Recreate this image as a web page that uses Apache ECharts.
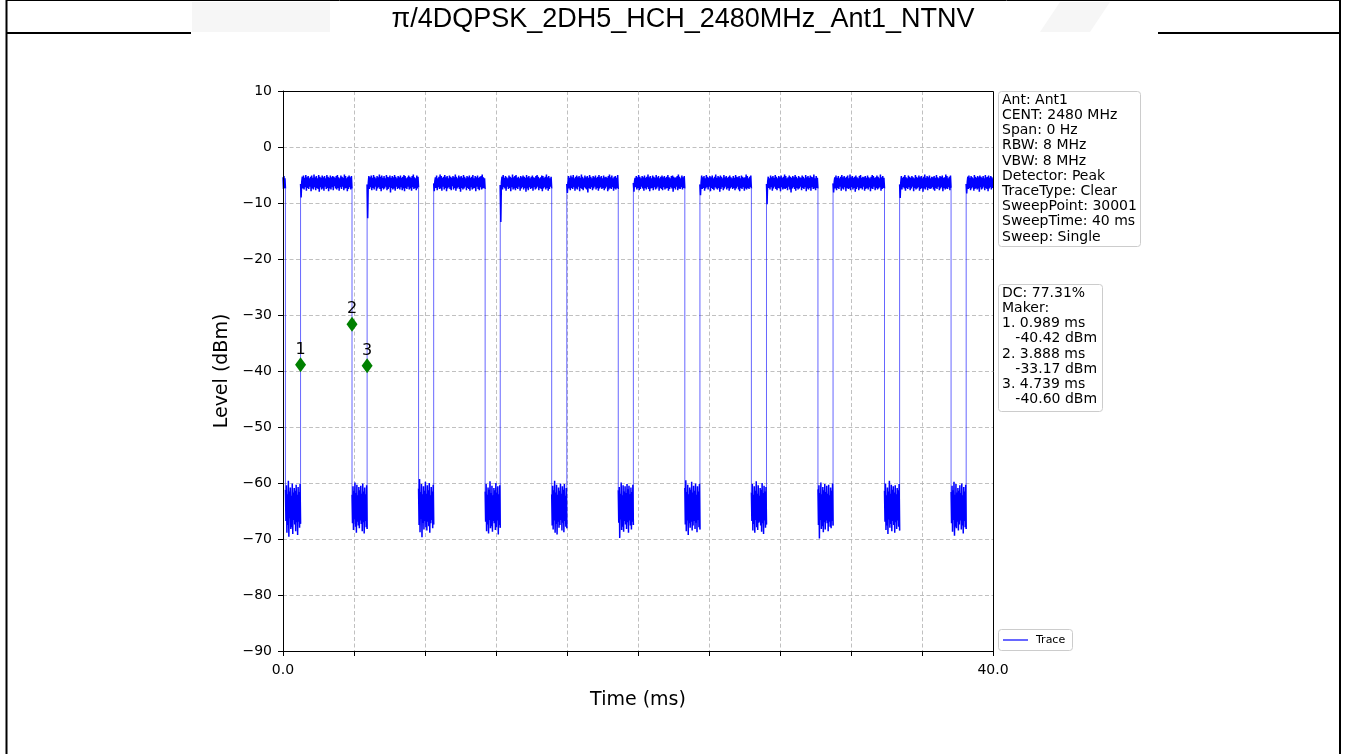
<!DOCTYPE html>
<html>
<head>
<meta charset="utf-8">
<script src="https://cdn.jsdelivr.net/npm/echarts@6/dist/echarts.min.js"></script>
<style>
  html, body { margin: 0; padding: 0; background: #ffffff; }
  #chart { width: 1346px; height: 754px; }
</style>
</head>
<body>
<div id="chart"></div>
<script>
// ---- chart data ----
const titleText = 'π/4DQPSK_2DH5_HCH_2480MHz_Ant1_NTNV';
const xAxisName = 'Time (ms)';
const yAxisName = 'Level (dBm)';
const xLimits = [0, 40];
const xTickStep = 4;
const yLimits = [-90, 10];
const yTickStep = 10;
const xLabelValues = [0, 40];

// pulse edges (ms)
const fallTimes = [0.138, 3.888, 7.638, 11.388, 15.138, 18.888, 22.638, 26.388, 30.138, 33.888, 37.638];
const riseTimes = [0.989, 4.739, 8.489, 12.239, 15.989, 19.739, 23.489, 27.239, 30.989, 34.739, 38.489];

// burst-on samples (dBm), one list per burst, evenly spaced across the burst
const pulse0 = [-5.4,-7.5,-5.2,-7.3,-5.6,-7.4];
const pulse1 = [-6.6,-9.0,-6.2,-5.3,-7.4,-5.1,-7.6,-5.5,-7.2,-5.0,-7.8,-5.4,-7.3,-5.2,-7.5,-5.6,-7.1,-5.3,-7.9,-5.1,-7.4,-5.5,-7.6,-4.9,-7.2,-5.4,-7.7,-5.2,-7.3,-5.6,-7.5,-5.0,-8.0,-5.3,-7.2,-5.5,-7.6,-5.1,-7.4,-5.4,-7.8,-5.2,-7.1,-5.6,-7.5,-5.0,-7.3,-5.3,-7.9,-5.5,-7.4,-5.1,-7.6,-5.4,-7.2,-5.2,-7.7,-5.3,-7.0,-5.5,-7.4,-5.2,-7.6,-5.0,-7.3,-5.4,-7.8,-5.6,-7.2,-5.1,-7.5,-5.3,-7.1,-5.5,-7.7,-4.9,-7.4,-5.2,-7.3,-5.6,-7.9,-5.3,-7.5,-5.1,-7.2,-5.4,-7.6,-5.2,-7.4];
const pulse2 = [-6.7,-12.7,-6.4,-5.2,-7.5,-5.4,-7.2,-5.1,-7.7,-5.5,-7.3,-5.0,-7.6,-5.3,-7.1,-5.6,-7.8,-5.2,-7.4,-5.4,-7.2,-4.9,-7.5,-5.3,-7.9,-5.1,-7.3,-5.5,-7.6,-5.2,-7.4,-5.6,-7.1,-5.0,-7.7,-5.3,-7.5,-5.4,-7.2,-5.1,-8.1,-5.5,-7.3,-5.2,-7.6,-5.4,-7.4,-5.0,-7.8,-5.3,-7.1,-5.6,-7.5,-5.2,-7.3,-5.4,-7.6,-5.1,-7.2,-5.5,-7.7,-5.3,-7.4,-5.0,-7.9,-5.2,-7.3,-5.6,-7.5,-5.4,-7.1,-5.1,-7.6,-5.3,-7.4,-5.5,-7.8,-5.2,-7.2,-4.9,-7.5,-5.4,-7.3,-5.6,-7.7,-5.1,-7.4,-5.3,-7.2];
const pulse3 = [-6.5,-7.9,-6.1,-5.4,-7.3,-5.1,-7.7,-5.6,-7.2,-5.3,-7.5,-4.9,-7.4,-5.2,-7.8,-5.5,-7.1,-5.3,-7.6,-5.0,-7.3,-5.4,-7.9,-5.2,-7.4,-5.6,-7.2,-5.1,-7.5,-5.3,-7.7,-5.5,-7.0,-5.2,-7.6,-5.4,-7.3,-4.9,-7.8,-5.3,-7.4,-5.6,-7.2,-5.1,-7.5,-5.4,-8.0,-5.2,-7.3,-5.5,-7.6,-5.0,-7.4,-5.3,-7.1,-5.6,-7.7,-5.2,-7.3,-5.4,-7.5,-5.1,-7.8,-5.5,-7.2,-5.3,-7.6,-5.0,-7.4,-5.6,-7.3,-5.2,-7.9,-5.4,-7.1,-5.1,-7.5,-5.5,-7.7,-5.3,-7.2,-5.2,-7.6,-4.9,-7.4,-5.4,-7.3,-5.6,-7.5];
const pulse4 = [-6.8,-13.4,-6.3,-5.3,-7.6,-5.0,-7.2,-5.5,-7.4,-5.2,-7.8,-5.4,-7.1,-5.6,-7.5,-5.1,-7.3,-5.3,-7.9,-5.5,-7.2,-4.9,-7.6,-5.4,-7.4,-5.2,-7.7,-5.0,-7.3,-5.5,-7.5,-5.3,-7.1,-5.6,-7.8,-5.2,-7.4,-5.4,-7.2,-5.1,-7.6,-5.3,-7.3,-5.5,-8.0,-5.0,-7.4,-5.4,-7.7,-5.2,-7.2,-5.6,-7.5,-5.3,-7.3,-5.1,-7.8,-5.4,-7.2,-5.5,-7.6,-5.2,-7.4,-5.0,-7.1,-5.3,-7.7,-5.6,-7.3,-5.4,-7.5,-5.1,-7.9,-5.2,-7.4,-5.5,-7.2,-5.3,-7.6,-4.9,-7.3,-5.4,-7.8,-5.2,-7.5,-5.6,-7.1,-5.3,-7.4];
const pulse5 = [-6.6,-8.2,-6.2,-5.2,-7.4,-5.5,-7.7,-5.1,-7.3,-5.4,-7.5,-5.0,-7.2,-5.6,-7.8,-5.3,-7.4,-5.1,-7.6,-5.4,-7.1,-5.2,-7.9,-5.5,-7.3,-4.9,-7.5,-5.3,-7.7,-5.6,-7.2,-5.1,-7.4,-5.4,-7.6,-5.2,-8.1,-5.5,-7.3,-5.0,-7.5,-5.3,-7.2,-5.6,-7.7,-5.2,-7.4,-5.4,-7.1,-5.1,-7.6,-5.5,-7.3,-5.3,-7.8,-5.0,-7.4,-5.4,-7.2,-5.2,-7.5,-5.6,-7.3,-5.1,-7.7,-5.4,-7.4,-5.3,-7.1,-5.5,-7.9,-5.2,-7.6,-4.9,-7.3,-5.4,-7.5,-5.1,-7.2,-5.6,-7.8,-5.3,-7.4,-5.2,-7.6,-5.5,-7.3,-5.0,-7.5];
const pulse6 = [-6.4,-8.0,-6.1,-5.5,-7.2,-5.2,-7.6,-5.4,-7.3,-5.0,-7.7,-5.3,-7.5,-5.6,-7.1,-5.2,-7.4,-5.4,-7.8,-5.1,-7.3,-5.5,-7.6,-5.3,-7.2,-4.9,-7.5,-5.4,-7.9,-5.2,-7.4,-5.6,-7.3,-5.1,-7.7,-5.3,-7.2,-5.5,-7.6,-5.0,-7.4,-5.4,-7.1,-5.2,-7.8,-5.6,-7.3,-5.3,-7.5,-5.1,-7.7,-5.4,-7.2,-5.2,-7.6,-5.5,-7.4,-5.3,-7.3,-5.0,-7.8,-5.4,-7.5,-5.6,-7.2,-5.2,-7.4,-5.1,-8.0,-5.3,-7.3,-5.5,-7.6,-5.4,-7.1,-5.2,-7.7,-4.9,-7.4,-5.3,-7.5,-5.6,-7.2,-5.1,-7.6,-5.4,-7.3,-5.2,-7.4];
const pulse7 = [-6.7,-8.6,-6.3,-5.1,-7.5,-5.4,-7.3,-5.2,-7.8,-5.6,-7.4,-5.0,-7.2,-5.3,-7.6,-5.5,-7.1,-5.2,-7.9,-5.4,-7.3,-5.1,-7.5,-5.6,-7.7,-5.3,-7.2,-4.9,-7.4,-5.5,-7.6,-5.2,-7.3,-5.4,-8.0,-5.1,-7.5,-5.3,-7.2,-5.6,-7.7,-5.0,-7.4,-5.4,-7.1,-5.2,-7.6,-5.5,-7.3,-5.3,-7.8,-5.1,-7.4,-5.4,-7.2,-5.6,-7.5,-5.2,-7.3,-5.5,-7.7,-5.0,-7.4,-5.3,-7.1,-5.4,-7.6,-5.2,-7.9,-5.6,-7.3,-5.1,-7.5,-5.3,-7.2,-5.5,-7.8,-5.4,-7.4,-4.9,-7.6,-5.2,-7.3,-5.6,-7.5,-5.3,-7.2,-5.1,-7.4];
const pulse8 = [-6.6,-10.2,-6.2,-5.3,-7.3,-5.6,-7.6,-5.1,-7.2,-5.4,-7.8,-5.2,-7.4,-5.5,-7.1,-5.0,-7.5,-5.3,-7.7,-5.6,-7.3,-5.2,-7.4,-5.4,-7.9,-5.1,-7.2,-5.5,-7.6,-5.3,-7.4,-4.9,-7.5,-5.2,-7.3,-5.6,-7.7,-5.4,-7.1,-5.1,-7.6,-5.3,-8.1,-5.5,-7.4,-5.2,-7.2,-5.4,-7.5,-5.0,-7.8,-5.3,-7.3,-5.6,-7.6,-5.2,-7.4,-5.4,-7.1,-5.5,-7.7,-5.1,-7.3,-5.3,-7.5,-5.6,-7.2,-5.0,-7.9,-5.4,-7.4,-5.2,-7.6,-5.5,-7.3,-5.1,-7.8,-5.3,-7.2,-5.4,-7.5,-4.9,-7.4,-5.6,-7.7,-5.2,-7.3,-5.5,-7.4];
const pulse9 = [-6.5,-8.1,-6.2,-5.4,-7.4,-5.1,-7.7,-5.5,-7.3,-5.2,-7.5,-5.6,-7.1,-5.3,-7.8,-5.0,-7.4,-5.4,-7.6,-5.2,-7.2,-5.5,-7.9,-5.3,-7.3,-5.1,-7.5,-5.6,-7.4,-4.9,-7.7,-5.4,-7.2,-5.2,-7.6,-5.5,-7.3,-5.3,-8.0,-5.1,-7.5,-5.4,-7.2,-5.6,-7.7,-5.2,-7.4,-5.0,-7.3,-5.5,-7.6,-5.3,-7.1,-5.4,-7.8,-5.2,-7.5,-5.5,-7.3,-5.1,-7.6,-5.4,-7.2,-5.6,-7.9,-5.3,-7.4,-5.0,-7.5,-5.2,-7.1,-5.5,-7.7,-5.4,-7.3,-5.1,-7.6,-5.3,-7.4,-5.6,-7.2,-4.9,-7.8,-5.4,-7.5,-5.2,-7.3,-5.5,-7.4];
const pulse10 = [-6.7,-9.1,-6.3,-5.2,-7.6,-5.5,-7.2,-5.3,-7.4,-5.0,-7.8,-5.4,-7.3,-5.6,-7.5,-5.1,-7.2,-5.3,-7.7,-5.5,-7.4,-5.2,-7.1,-5.4,-7.9,-5.6,-7.3,-5.0,-7.6,-5.3,-7.4,-5.5,-7.2,-5.1,-7.8,-5.4,-7.5,-5.2,-7.3,-5.6,-8.0,-5.3,-7.4,-4.9,-7.6,-5.5,-7.2,-5.2,-7.7,-5.4,-7.3,-5.1,-7.5,-5.6,-7.4,-5.3,-7.2,-5.4,-7.6,-5.2,-7.8,-5.5,-7.3,-5.0,-7.5,-5.4,-7.1,-5.6,-7.7,-5.2,-7.4,-5.3,-7.2,-5.1,-7.9,-5.5,-7.3,-5.4,-7.6,-4.9,-7.4,-5.2,-7.5,-5.6,-7.2,-5.3,-7.7,-5.1,-7.3];
const pulse11 = [-6.6,-8.3,-6.2,-5.3,-7.5,-5.1,-7.3,-5.5,-7.7,-5.2,-7.4,-5.4,-7.2,-5.6,-7.8,-5.0,-7.5,-5.3,-7.3,-5.5,-7.6,-5.2,-7.4,-5.4,-8.0,-5.1,-7.2,-5.3,-7.6,-5.5,-7.4,-5.2,-7.1,-5.6,-7.7,-5.0,-7.3,-5.4,-7.5,-5.3,-7.9,-5.1,-7.4,-5.5,-7.2,-5.2,-7.6,-5.4,-7.3,-5.6];

// burst-off (noise floor) samples (dBm), one list per gap
const gap0 = [-61.2,-66.8,-60.4,-68.9,-62.0,-67.5,-59.6,-69.6,-61.5,-66.3,-60.8,-68.2,-62.3,-67.9,-60.1,-69.1,-61.7,-66.6,-60.9,-67.4,-61.4,-68.6,-60.3,-67.0,-62.1,-69.3,-60.7,-66.9,-61.6,-68.0,-60.2,-67.3];
const gap1 = [-62.1,-67.2,-60.6,-68.4,-61.4,-66.5,-59.9,-67.8,-61.8,-68.9,-60.3,-66.9,-62.2,-67.6,-60.7,-68.1,-61.3,-66.7,-60.5,-67.3,-61.9,-68.6,-60.1,-67.0,-61.5,-69.0,-60.8,-66.8,-62.0,-67.9,-60.4,-68.2];
const gap2 = [-61.0,-67.5,-59.3,-68.8,-61.6,-66.4,-60.2,-69.7,-62.0,-67.1,-60.6,-68.3,-61.4,-66.8,-59.8,-67.9,-61.9,-68.5,-60.4,-66.9,-61.3,-67.7,-60.0,-68.9,-62.2,-67.2,-60.7,-66.6,-61.5,-68.1,-60.3,-67.4];
const gap3 = [-61.5,-66.9,-60.2,-68.6,-62.1,-67.4,-60.8,-69.0,-61.2,-66.6,-59.7,-68.1,-61.8,-67.7,-60.5,-68.7,-62.2,-66.8,-60.9,-67.2,-61.3,-68.4,-60.0,-67.9,-61.7,-66.7,-60.6,-69.2,-62.0,-67.5,-60.4,-68.0];
const gap4 = [-62.0,-67.6,-60.5,-68.3,-61.3,-66.7,-59.6,-68.9,-61.7,-67.3,-60.3,-69.2,-62.1,-66.9,-60.8,-68.0,-61.4,-67.5,-60.1,-66.6,-61.9,-68.5,-60.6,-67.1,-61.2,-68.8,-60.2,-66.8,-62.3,-67.8,-60.9,-68.1];
const gap5 = [-61.3,-67.1,-60.7,-69.8,-61.9,-66.5,-59.9,-68.4,-62.2,-67.8,-60.4,-68.7,-61.5,-66.8,-60.6,-67.4,-61.8,-68.2,-60.2,-67.0,-61.1,-68.9,-60.5,-66.7,-62.0,-67.6,-60.8,-68.3,-61.6,-66.9,-60.3,-67.5];
const gap6 = [-60.9,-67.4,-59.5,-68.6,-61.6,-66.7,-60.3,-69.3,-62.0,-67.2,-60.8,-68.0,-61.2,-66.9,-59.8,-68.5,-61.7,-67.6,-60.5,-66.8,-61.4,-68.2,-60.1,-67.1,-62.1,-68.8,-60.6,-66.6,-61.5,-67.9,-60.2,-68.3];
const gap7 = [-61.7,-66.8,-60.2,-68.5,-62.1,-67.3,-60.6,-68.9,-61.4,-66.6,-59.7,-67.9,-61.9,-68.4,-60.4,-67.1,-62.3,-66.9,-60.9,-67.6,-61.2,-68.7,-60.0,-67.2,-61.8,-69.1,-60.5,-66.7,-61.5,-68.0,-60.7,-67.4];
const gap8 = [-61.1,-67.5,-60.4,-69.9,-61.8,-66.6,-59.9,-68.2,-62.0,-67.7,-60.7,-68.8,-61.3,-67.0,-60.2,-68.3,-61.6,-66.7,-60.5,-67.2,-61.9,-68.6,-60.3,-66.9,-62.2,-67.8,-60.8,-68.1,-61.4,-66.8,-60.1,-67.6];
const gap9 = [-61.4,-66.9,-60.1,-68.4,-62.2,-67.6,-60.8,-69.1,-61.5,-66.5,-59.6,-68.0,-61.9,-67.3,-60.3,-68.6,-61.2,-66.8,-60.6,-67.5,-61.7,-68.9,-60.4,-67.0,-62.0,-68.2,-60.9,-66.7,-61.3,-67.8,-60.2,-68.5];
const gap10 = [-61.6,-67.2,-60.5,-68.7,-61.3,-66.6,-59.8,-69.4,-62.1,-67.8,-60.2,-68.1,-61.7,-66.9,-60.9,-68.5,-61.4,-67.4,-60.4,-66.7,-61.8,-68.3,-60.1,-67.6,-62.2,-69.0,-60.7,-66.8,-61.5,-67.9,-60.3,-68.2];

const pulses = [pulse0, pulse1, pulse2, pulse3, pulse4, pulse5, pulse6, pulse7, pulse8, pulse9, pulse10, pulse11];
const gaps = [gap0, gap1, gap2, gap3, gap4, gap5, gap6, gap7, gap8, gap9, gap10];

// markers
const markerTimes = [0.989, 3.888, 4.739];
const markerLevels = [-40.42, -33.17, -40.60];
const dutyCycle = 77.31;

// analyzer settings
const settingLines = [
  'Ant: Ant1', 'CENT: 2480 MHz', 'Span: 0 Hz', 'RBW: 8 MHz', 'VBW: 8 MHz',
  'Detector: Peak', 'TraceType: Clear', 'SweepPoint: 30001', 'SweepTime: 40 ms', 'Sweep: Single'
];
const legendName = 'Trace';

// ---- build the trace: bursts and gaps alternate, sharing edge times ----
const bounds = [xLimits[0]];
for (let i = 0; i < fallTimes.length; i++) { bounds.push(fallTimes[i]); bounds.push(riseTimes[i]); }
bounds.push(xLimits[1]);

const segments = [];
for (let j = 0; j < bounds.length - 1; j++) {
  const vals = (j % 2 === 0) ? pulses[j / 2] : gaps[(j - 1) / 2];
  const a = bounds[j], b = bounds[j + 1];
  const n = vals.length;
  segments.push(vals.map((v, i) => [a + (b - a) * i / (n - 1), v]));
}

// dense noise inside each burst / gap (broken between segments)
const bandData = [];
segments.forEach((seg, j) => {
  if (j > 0) bandData.push([seg[0][0], '-']);
  seg.forEach(p => bandData.push(p));
});

// vertical switching edges joining consecutive segments
const edgeData = [];
for (let j = 0; j < segments.length - 1; j++) {
  const last = segments[j][segments[j].length - 1];
  const first = segments[j + 1][0];
  edgeData.push(last, first, [first[0], '-']);
}

const markerData = markerTimes.map((t, i) => [t, markerLevels[i]]);
const markerText = ['DC: ' + dutyCycle.toFixed(2) + '%', 'Maker:']
  .concat(markerTimes.flatMap((t, i) => [
    (i + 1) + '. ' + t.toFixed(3) + ' ms',
    '   ' + markerLevels[i].toFixed(2) + ' dBm'
  ]));

const minus = v => (v < 0 ? '\u2212' + Math.abs(v) : String(v));
const FONT = 'DejaVu Sans';
const gridDash = { color: '#b0b0b0', width: 0.8, type: [4, 2.5] };

const chart = echarts.init(document.getElementById('chart'), null, { renderer: 'canvas' });

chart.setOption({
  animation: false,
  backgroundColor: '#ffffff',
  grid: {
    left: 283, right: 353, top: 91, bottom: 103,
    show: false,
    containLabel: false, outerBoundsMode: 'none'
  },
  xAxis: {
    type: 'value',
    min: xLimits[0], max: xLimits[1], interval: xTickStep,
    name: xAxisName, nameLocation: 'middle', nameGap: 40,
    nameTextStyle: { fontFamily: FONT, fontSize: 19, color: '#000' },
    axisLine: { show: true, onZero: false, lineStyle: { color: '#000', width: 1 } },
    axisTick: { show: true, inside: false, length: 5, lineStyle: { color: '#000', width: 1 } },
    axisLabel: {
      show: true, margin: 12, fontFamily: FONT, fontSize: 14, color: '#000',
      showMinLabel: true, showMaxLabel: true, hideOverlap: false,
      formatter: v => (xLabelValues.indexOf(v) >= 0 ? v.toFixed(1) : '')
    },
    splitLine: { show: true, showMinLine: false, showMaxLine: false, lineStyle: gridDash }
  },
  yAxis: {
    type: 'value',
    min: yLimits[0], max: yLimits[1], interval: yTickStep,
    name: yAxisName, nameLocation: 'middle', nameGap: 51,
    nameTextStyle: { fontFamily: FONT, fontSize: 19, color: '#000' },
    axisLine: { show: true, onZero: false, lineStyle: { color: '#000', width: 1 } },
    axisTick: { show: true, inside: false, length: 5, lineStyle: { color: '#000', width: 1 } },
    axisLabel: { show: true, margin: 11, fontFamily: FONT, fontSize: 14, color: '#000', formatter: minus },
    splitLine: { show: true, showMinLine: false, showMaxLine: false, lineStyle: gridDash }
  },
  series: [
    {
      name: legendName,
      type: 'line',
      data: bandData,
      showSymbol: false,
      symbol: 'none',
      sampling: false,
      connectNulls: false,
      clip: true,
      lineStyle: { color: '#0000ff', width: 1.5 },
      itemStyle: { color: '#0000ff' },
      emphasis: { disabled: true },
      z: 2
    },
    {
      name: legendName + ' edges',
      type: 'line',
      data: edgeData,
      showSymbol: false,
      symbol: 'none',
      sampling: false,
      connectNulls: false,
      clip: true,
      lineStyle: { color: '#0000ff', width: 1, opacity: 0.6 },
      itemStyle: { color: '#0000ff' },
      emphasis: { disabled: true },
      z: 2
    },
    {
      name: 'markers',
      type: 'scatter',
      data: markerData,
      symbol: 'diamond',
      symbolSize: [11, 15],
      symbolOffset: [0, -8.5],
      itemStyle: { color: '#008000', opacity: 1 },
      label: {
        show: true, position: 'top', distance: 0,
        formatter: p => String(p.dataIndex + 1),
        fontFamily: FONT, fontSize: 16, color: '#000'
      },
      emphasis: { disabled: true },
      z: 5
    }
  ],
  graphic: [
    // faint background shapes in the heading band
    { type: 'polygon', silent: true, z: 0, shape: { points: [[192, 2], [330, 2], [330, 32], [192, 32]] }, style: { fill: '#f6f6f6' } },
    { type: 'polygon', silent: true, z: 0, shape: { points: [[1060, 2], [1110, 2], [1090, 32], [1040, 32]] }, style: { fill: '#f6f6f6' } },
    // page frame
    { type: 'line', silent: true, z: 1, shape: { x1: 6, y1: 0.5, x2: 1340, y2: 0.5 }, style: { stroke: '#000', lineWidth: 1 } },
    { type: 'line', silent: true, z: 1, shape: { x1: 6.5, y1: 0, x2: 6.5, y2: 754 }, style: { stroke: '#000', lineWidth: 2 } },
    { type: 'line', silent: true, z: 1, shape: { x1: 1340, y1: 0, x2: 1340, y2: 754 }, style: { stroke: '#000', lineWidth: 2 } },
    { type: 'line', silent: true, z: 1, shape: { x1: 6, y1: 33, x2: 191, y2: 33 }, style: { stroke: '#000', lineWidth: 2 } },
    { type: 'line', silent: true, z: 1, shape: { x1: 1158, y1: 33, x2: 1340, y2: 33 }, style: { stroke: '#000', lineWidth: 2 } },
    // plot frame (top and right spines)
    { type: 'rect', silent: true, z: 10, shape: { x: 283.5, y: 91.5, width: 710, height: 560 }, style: { fill: null, stroke: '#000', lineWidth: 1 } },
    // heading
    { type: 'text', silent: true, z: 2, style: { text: titleText, x: 683, y: 19.5, align: 'center', verticalAlign: 'middle', font: '27px "Liberation Sans", Arial, sans-serif', fill: '#000' } },
    // analyzer settings box
    { type: 'rect', silent: true, z: 3, shape: { x: 998.5, y: 91.5, width: 142, height: 155, r: 3 }, style: { fill: '#ffffff', stroke: '#cccccc', lineWidth: 1 } },
    { type: 'text', silent: true, z: 4, style: { text: settingLines.join('\n'), x: 1002, y: 92.5, font: '14px "DejaVu Sans"', lineHeight: 15.2, fill: '#000' } },
    // marker readout box
    { type: 'rect', silent: true, z: 3, shape: { x: 998.5, y: 284.5, width: 104, height: 127, r: 3 }, style: { fill: '#ffffff', stroke: '#cccccc', lineWidth: 1 } },
    { type: 'text', silent: true, z: 4, style: { text: markerText.join('\n'), x: 1002, y: 285.5, font: '14px "DejaVu Sans"', lineHeight: 15.2, fill: '#000' } },
    // legend
    { type: 'rect', silent: true, z: 3, shape: { x: 998.5, y: 629.5, width: 74, height: 21, r: 3 }, style: { fill: '#ffffff', stroke: '#cccccc', lineWidth: 1 } },
    { type: 'line', silent: true, z: 4, shape: { x1: 1003, y1: 640, x2: 1028, y2: 640 }, style: { stroke: '#0000ff', lineWidth: 1.2 } },
    { type: 'text', silent: true, z: 4, style: { text: legendName, x: 1036, y: 640, verticalAlign: 'middle', font: '11px "DejaVu Sans"', fill: '#000' } }
  ]
});
</script>
</body>
</html>
